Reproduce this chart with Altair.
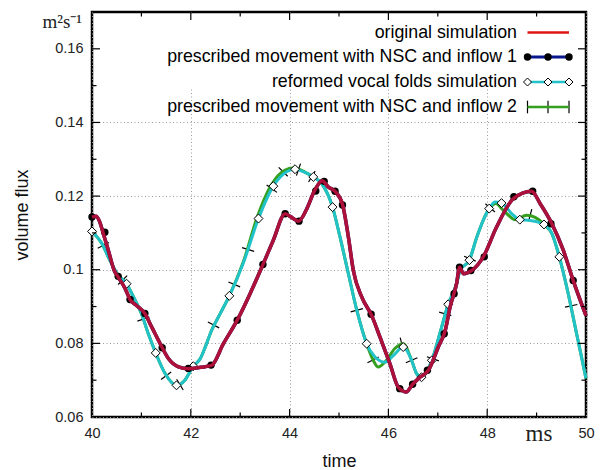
import math
import altair as alt
import numpy as np
import pandas as pd

# ---- original simulation (inflow 1 run follows the same curve) ----
orig_t = [40.00, 40.08, 40.15, 40.23, 40.33, 40.45, 40.53, 40.67, 40.77, 40.90,
          41.07, 41.21, 41.38, 41.55, 41.75, 41.95, 42.20, 42.42, 42.66, 42.94,
          43.20, 43.46, 43.67, 43.91, 44.01, 44.18, 44.35, 44.51, 44.66, 44.78,
          44.92, 45.07, 45.19, 45.29, 45.46, 45.66, 45.83, 46.03, 46.20, 46.36,
          46.49, 46.64, 46.81, 47.01, 47.15, 47.25, 47.38, 47.44, 47.52, 47.69,
          47.92, 48.19, 48.53, 48.90, 49.07, 49.31, 49.54, 49.74, 50.00]
orig_q = [0.1143, 0.1145, 0.1132, 0.1098, 0.1053, 0.0998, 0.0980, 0.0949, 0.0919, 0.0903,
          0.0881, 0.0844, 0.0799, 0.0758, 0.0736, 0.0731, 0.0735, 0.0740, 0.0799, 0.0863,
          0.0935, 0.1014, 0.1080, 0.1152, 0.1145, 0.1132, 0.1166, 0.1216, 0.1242, 0.1225,
          0.1213, 0.1178, 0.1089, 0.0998, 0.0926, 0.0876, 0.0817, 0.0745, 0.0681, 0.0668,
          0.0689, 0.0708, 0.0727, 0.0790, 0.0835, 0.0899, 0.0962, 0.1007, 0.0989, 0.0998,
          0.1035, 0.1116, 0.1193, 0.1213, 0.1180, 0.1125, 0.1053, 0.0971, 0.0875]

inflow1_t = list(orig_t)
inflow1_q = list(orig_q)
# sample points of the inflow 1 run
inflow1_pts_t = [40.00, 40.26, 40.53, 40.77, 41.07, 41.42, 41.95, 42.41, 42.94, 43.46,
                 43.91, 44.19, 44.53, 44.70, 44.92, 45.07, 45.65, 46.23, 46.49, 46.79,
                 47.13, 47.33, 47.44, 47.67, 47.94, 48.54, 48.92, 49.29, 49.74]
inflow1_pts_q = [0.1143, 0.1102, 0.0982, 0.0919, 0.0881, 0.0788, 0.0732, 0.0741, 0.0863, 0.1014,
                 0.1152, 0.1132, 0.1214, 0.1240, 0.1213, 0.1176, 0.0879, 0.0677, 0.0689, 0.0727,
                 0.0826, 0.0935, 0.1007, 0.0998, 0.1035, 0.1198, 0.1213, 0.1125, 0.0971]

# ---- reformed vocal folds simulation ----
reform_t = [40.00, 40.20, 40.36, 40.53, 40.70, 40.84, 41.00, 41.14, 41.29, 41.48,
            41.71, 41.88, 42.05, 42.19, 42.29, 42.42, 42.60, 42.78, 43.06, 43.37,
            43.67, 43.94, 44.11, 44.30, 44.48, 44.65, 44.87, 45.02, 45.19, 45.36,
            45.56, 45.73, 45.93, 46.10, 46.30, 46.47, 46.57, 46.67, 46.88, 47.04,
            47.21, 47.38, 47.45, 47.64, 47.79, 48.04, 48.16, 48.29, 48.50, 48.66,
            48.87, 49.15, 49.31, 49.46, 49.64, 49.81, 50.00]
reform_q = [0.1104, 0.1071, 0.1026, 0.0985, 0.0962, 0.0926, 0.0881, 0.0826, 0.0774, 0.0718,
            0.0686, 0.0700, 0.0738, 0.0758, 0.0789, 0.0835, 0.0882, 0.0929, 0.1017, 0.1139,
            0.1227, 0.1266, 0.1273, 0.1265, 0.1252, 0.1234, 0.1170, 0.1089, 0.0989, 0.0890,
            0.0799, 0.0763, 0.0749, 0.0767, 0.0790, 0.0754, 0.0718, 0.0708, 0.0754, 0.0826,
            0.0906, 0.0962, 0.0998, 0.1026, 0.1089, 0.1166, 0.1184, 0.1181, 0.1152, 0.1136,
            0.1134, 0.1123, 0.1098, 0.1035, 0.0935, 0.0826, 0.0705]
reform_pts_t = [40.00, 40.70, 41.29, 41.71, 42.05, 42.78, 43.37, 43.67, 44.11, 44.48,
                44.87, 45.56, 46.30, 46.67, 46.88, 47.21, 47.64, 48.04, 48.29, 48.66,
                49.15, 49.46]
reform_pts_q = [0.1104, 0.0962, 0.0774, 0.0686, 0.0738, 0.0929, 0.1139, 0.1227, 0.1273, 0.1252,
                0.1170, 0.0799, 0.0790, 0.0708, 0.0754, 0.0906, 0.1026, 0.1166, 0.1181, 0.1136,
                0.1123, 0.1035]

# ---- prescribed movement with NSC and inflow 2 ----
inflow2_t = [40.00, 40.20, 40.36, 40.53, 40.70, 40.84, 41.00, 41.14, 41.29, 41.48,
             41.71, 41.88, 42.05, 42.19, 42.29, 42.42, 42.60, 42.78, 43.06, 43.35,
             43.62, 43.90, 44.08, 44.30, 44.48, 44.65, 44.87, 45.02, 45.19, 45.36,
             45.56, 45.69, 45.79, 45.96, 46.13, 46.30, 46.47, 46.57, 46.67, 46.88,
             47.04, 47.21, 47.38, 47.45, 47.64, 47.79, 48.04, 48.18, 48.30, 48.43,
             48.56, 48.80, 48.97, 49.15, 49.31, 49.46, 49.64, 49.81, 50.00]
inflow2_q = [0.1104, 0.1071, 0.1026, 0.0985, 0.0962, 0.0926, 0.0881, 0.0826, 0.0774, 0.0718,
             0.0686, 0.0700, 0.0738, 0.0758, 0.0789, 0.0835, 0.0882, 0.0929, 0.1020, 0.1145,
             0.1228, 0.1270, 0.1276, 0.1266, 0.1252, 0.1234, 0.1170, 0.1089, 0.0989, 0.0890,
             0.0799, 0.0755, 0.0736, 0.0754, 0.0786, 0.0799, 0.0754, 0.0718, 0.0708, 0.0754,
             0.0826, 0.0906, 0.0962, 0.0998, 0.1026, 0.1089, 0.1166, 0.1180, 0.1165, 0.1148,
             0.1136, 0.1148, 0.1142, 0.1123, 0.1098, 0.1035, 0.0935, 0.0826, 0.0705]
inflow2_pts_t = [40.23, 40.62, 41.04, 41.50, 41.78, 42.46, 42.88, 43.16, 43.64, 43.87,
                 44.18, 44.45, 45.36, 45.69, 46.27, 46.47, 46.90, 47.15, 47.65, 48.06,
                 48.87, 49.70]
inflow2_pts_q = [0.1066, 0.0972, 0.0866, 0.0712, 0.0688, 0.0850, 0.0960, 0.1055, 0.1220, 0.1266,
                 0.1272, 0.1253, 0.0890, 0.0755, 0.0799, 0.0754, 0.0758, 0.0880, 0.1030, 0.1168,
                 0.1148, 0.0902]

legend_labels = ["original simulation",
                 "prescribed movement with NSC and inflow 1",
                 "reformed vocal folds simulation",
                 "prescribed movement with NSC and inflow 2"]

x_major = [42, 44, 46, 48]
x_minor = [41, 43, 45, 47, 49]
y_major = [0.08, 0.10, 0.12, 0.14, 0.16]
y_minor = [0.07, 0.09, 0.11, 0.13, 0.15]

RED = "#ad1038"
RED_KEY = "#e01414"
NAVY = "#0a168c"
CYAN = "#22c2c9"
GREEN = "#35a020"
FONT = "Liberation Sans"
SERIF = "Liberation Serif"
W, H = 494, 405
X_DOM, Y_DOM = (40, 50), (0.06, 0.17)

xs = alt.Scale(domain=list(X_DOM), nice=False, zero=False)
ys = alt.Scale(domain=list(Y_DOM), nice=False, zero=False)
x_enc = alt.X("t:Q", scale=xs, title="time",
              axis=alt.Axis(values=[40, 42, 44, 46, 48, 50], format="d",
                            labelFlush=False, labelOverlap=False,
                            titleX=247, titleY=44, titleBaseline="middle",
                            labelPadding=9))
y_enc = alt.Y("q:Q", scale=ys, title="volume flux",
              axis=alt.Axis(values=[0.06, 0.08, 0.1, 0.12, 0.14, 0.16], format=".2~f",
                            labelFlush=False, labelOverlap=False,
                            titleX=-70, titleY=202.5, titleAngle=270,
                            titleAlign="center", titleBaseline="middle",
                            labelPadding=9))

def frame(ts, qs):
    return pd.DataFrame({"t": ts, "q": qs})

def curve(ts, qs, color, width):
    return alt.Chart(frame(ts, qs)).mark_line(
        color=color, strokeWidth=width, interpolate="monotone", strokeJoin="round"
    ).encode(x=x_enc, y=y_enc)

def points(df, **kw):
    return alt.Chart(df).mark_point(**kw).encode(x=x_enc, y=y_enc)

# inflow 2 markers: short dashes drawn across the curve at each sample
BAR = "M0,-1L0,1"
def across_angles(ts, line_t, line_q):
    px_t = W / (X_DOM[1] - X_DOM[0])
    px_q = H / (Y_DOM[1] - Y_DOM[0])
    out = []
    for t in ts:
        a, b = t - 0.04, t + 0.04
        dq = np.interp(b, line_t, line_q) - np.interp(a, line_t, line_q)
        ang = math.degrees(math.atan2(-dq * px_q, (b - a) * px_t))
        out.append(ang % 360)
    return out

inflow2_marks = frame(inflow2_pts_t, inflow2_pts_q)
inflow2_marks["ang"] = across_angles(inflow2_pts_t, inflow2_t, inflow2_q)

# inward tick marks on all four sides
def xticks(vals, length):
    df = pd.DataFrame({"t": vals})
    bottom = alt.Chart(df).mark_rule(color="black", strokeWidth=1.2).encode(
        x=x_enc, y=alt.value(H), y2=alt.value(H - length))
    top = alt.Chart(df).mark_rule(color="black", strokeWidth=1.2).encode(
        x=x_enc, y=alt.value(0), y2=alt.value(length))
    return [bottom, top]

def yticks(vals, length):
    df = pd.DataFrame({"q": vals})
    left = alt.Chart(df).mark_rule(color="black", strokeWidth=1.2).encode(
        y=y_enc, x=alt.value(0), x2=alt.value(length))
    right = alt.Chart(df).mark_rule(color="black", strokeWidth=1.2).encode(
        y=y_enc, x=alt.value(W), x2=alt.value(W - length))
    return [left, right]

one = pd.DataFrame({"k": [0]})

key_box = alt.Chart(one).mark_rect(color="white").encode(
    x=alt.value(2), x2=alt.value(W - 2), y=alt.value(2), y2=alt.value(77))

layers = [key_box,
          alt.Chart(inflow2_marks).mark_point(
              shape=BAR, size=160, filled=False, stroke="black", strokeWidth=1.2, opacity=1
          ).encode(x=x_enc, y=y_enc, angle=alt.Angle("ang:Q", scale=None)),
          curve(inflow2_t, inflow2_q, GREEN, 3),
          curve(reform_t, reform_q, CYAN, 3),
          points(frame(reform_pts_t, reform_pts_q), shape="diamond", size=80, filled=True,
                 fill="white", stroke="black", strokeWidth=1, opacity=1),
          curve(inflow1_t, inflow1_q, NAVY, 3.5),
          points(frame(inflow1_pts_t, inflow1_pts_q), shape="circle", size=55, filled=True,
                 color="black", opacity=1),
          curve(orig_t, orig_q, RED, 3.5)]

layers += xticks(x_major, 8) + xticks(x_minor, 4.5)
layers += yticks(y_major, 8) + yticks(y_minor, 4.5)

# key entries: label on the left, sample on the right
row_y = [20.5, 45, 70, 95]
text_right = 425
sample_x = [435.5, 456, 477]

def key_line(y, color, width):
    return alt.Chart(one).mark_rule(color=color, strokeWidth=width).encode(
        x=alt.value(sample_x[0]), x2=alt.value(sample_x[-1]), y=alt.value(y))

def key_marks(y, **kw):
    return [alt.Chart(one).mark_point(**kw).encode(x=alt.value(sx), y=alt.value(y))
            for sx in sample_x]

for label, y in zip(legend_labels, row_y):
    layers.append(alt.Chart(one).mark_text(
        text=label, align="right", baseline="middle", font=FONT, fontSize=17.8,
        color="black").encode(x=alt.value(text_right), y=alt.value(y)))

layers.append(key_line(row_y[0], RED_KEY, 2.5))
layers.append(key_line(row_y[1], NAVY, 3))
layers += key_marks(row_y[1], shape="circle", size=55, filled=True, color="black", opacity=1)
layers.append(key_line(row_y[2], CYAN, 2.5))
layers += key_marks(row_y[2], shape="diamond", size=64, filled=True, fill="white",
                    stroke="black", strokeWidth=1, opacity=1)
layers += key_marks(row_y[3], shape=BAR, size=160, filled=False, stroke="black",
                    strokeWidth=1.2, opacity=1)
layers.append(key_line(row_y[3], GREEN, 2.5))

# unit labels
layers.append(alt.Chart(one).mark_text(
    text="m²s⁻¹", align="right", baseline="alphabetic", font=SERIF, fontSize=19,
    color="#222").encode(x=alt.value(-10), y=alt.value(16)))
layers.append(alt.Chart(one).mark_text(
    text="ms", align="center", baseline="alphabetic", font=SERIF, fontSize=23,
    color="#222").encode(x=alt.value(447), y=alt.value(H + 24)))

chart = alt.layer(*layers).properties(
    width=W, height=H, background="white",
    autosize=alt.AutoSizeParams(type="none"),
    padding={"left": 92, "top": 12, "right": 16, "bottom": 53},
).configure_view(
    stroke="black", strokeWidth=2.5
).configure_axis(
    ticks=False, tickSize=0, domain=False,
    grid=True, gridColor="#9a9a9a", gridDash=[1, 2.5], gridWidth=1,
    labelFont=FONT, labelFontSize=14.5, labelColor="#222",
    titleFont=FONT, titleFontSize=18, titleFontWeight="normal", titleColor="#111",
)

chart.save("out.html", embed_options={"renderer": "svg", "actions": False})
